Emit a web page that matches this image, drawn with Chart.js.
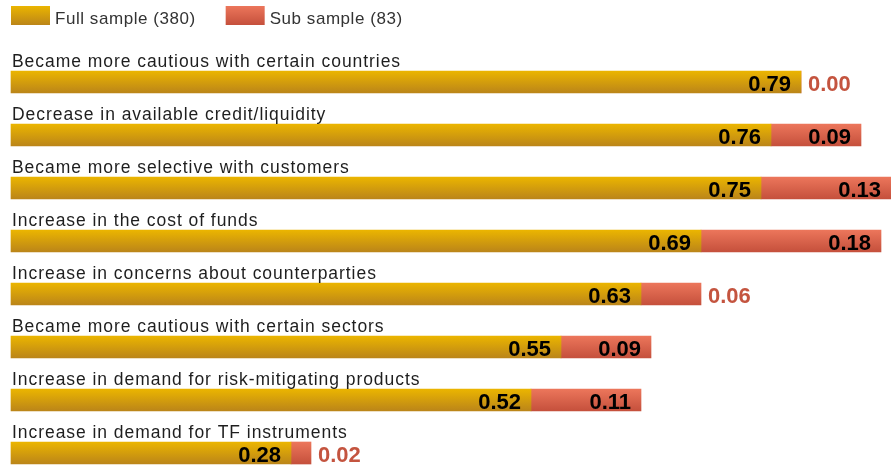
<!DOCTYPE html>
<html>
<head>
<meta charset="utf-8">
<script src="https://cdn.jsdelivr.net/npm/chart.js@4"></script>
<style>
  html, body { margin: 0; padding: 0; background: #fff; }
  canvas { display: block; }
</style>
</head>
<body>
<canvas id="chart" width="891" height="465"></canvas>
<script>
const categories = [
  'Became more cautious with certain countries',
  'Decrease in available credit/liquidity',
  'Became more selective with customers',
  'Increase in the cost of funds',
  'Increase in concerns about counterparties',
  'Became more cautious with certain sectors',
  'Increase in demand for risk-mitigating products',
  'Increase in demand for TF instruments'
];
const fullSample = [0.79, 0.76, 0.75, 0.69, 0.63, 0.55, 0.52, 0.28];
const subSample = [0.00, 0.09, 0.13, 0.18, 0.06, 0.09, 0.11, 0.02];
const seriesNames = ['Full sample (380)', 'Sub sample (83)'];

const topColors = ['#ebb500', '#ec765b'];
const bottomColors = ['#bb8519', '#c5503c'];
const FONT = '"Liberation Sans", Arial, sans-serif';

// vertical gradient for each bar, built from the y scale
function barFill(i) {
  return (ctx) => {
    const y = ctx.chart.scales.y;
    if (!y || ctx.type !== 'data') return bottomColors[i];
    const c = y.getPixelForValue(ctx.dataIndex);
    if (!isFinite(c)) return bottomColors[i];
    const g = ctx.chart.ctx.createLinearGradient(0, c - 11, 0, c + 11);
    g.addColorStop(0, topColors[i]);
    g.addColorStop(1, bottomColors[i]);
    return g;
  };
}

// legend, category names above bars, value labels on the bars
const barLabels = {
  id: 'barLabels',
  afterDatasetsDraw(chart) {
    const { ctx, scales: { x, y } } = chart;
    const left = x.getPixelForValue(0);
    ctx.save();

    // legend
    ctx.font = '17px ' + FONT;
    ctx.letterSpacing = '0.55px';
    ctx.textAlign = 'left';
    ctx.textBaseline = 'alphabetic';
    let lx = left;
    chart.data.datasets.forEach((ds, i) => {
      const g = ctx.createLinearGradient(0, 6, 0, 25);
      g.addColorStop(0, topColors[i]);
      g.addColorStop(1, bottomColors[i]);
      ctx.fillStyle = g;
      ctx.fillRect(lx, 6, 39, 19);
      ctx.fillStyle = '#333';
      ctx.fillText(ds.label, lx + 44, 24);
      lx += 44 + ctx.measureText(ds.label).width + 30;
    });

    // category names
    ctx.font = '17.5px ' + FONT;
    ctx.letterSpacing = '0.95px';
    ctx.fillStyle = '#1e1e1e';
    categories.forEach((c, i) => ctx.fillText(c, left + 1, y.getPixelForValue(i) - 15));

    // values
    ctx.font = 'bold 22px ' + FONT;
    ctx.letterSpacing = '0px';
    chart.data.datasets.forEach((ds, di) => {
      chart.getDatasetMeta(di).data.forEach((bar, i) => {
        const txt = ds.data[i].toFixed(2);
        const w = ctx.measureText(txt).width;
        const segW = Math.abs(bar.x - bar.base);
        if (segW >= w + 20) {
          ctx.fillStyle = '#000';
          ctx.textAlign = 'right';
          ctx.fillText(txt, bar.x - 10, bar.y + 8.5);
        } else {
          ctx.fillStyle = '#c4543f';
          ctx.textAlign = 'left';
          ctx.fillText(txt, bar.x + 7, bar.y + 8.5);
        }
      });
    });
    ctx.restore();
  }
};

new Chart(document.getElementById('chart'), {
  type: 'bar',
  data: {
    labels: categories,
    datasets: [
      { label: seriesNames[0], data: fullSample, backgroundColor: barFill(0) },
      { label: seriesNames[1], data: subSample, backgroundColor: barFill(1) }
    ]
  },
  options: {
    indexAxis: 'y',
    responsive: false,
    animation: false,
    devicePixelRatio: 1,
    layout: { padding: { left: 5, right: 0, top: 0, bottom: 12 } },
    datasets: { bar: { barThickness: 22, borderWidth: 0, clip: false } },
    scales: {
      x: {
        stacked: true,
        position: 'top',
        min: -0.006,
        max: 0.88,
        grid: { display: false },
        border: { display: false },
        ticks: { display: false },
        afterFit: (s) => { s.height = 82; }
      },
      y: {
        stacked: true,
        display: false,
        offset: false
      }
    },
    plugins: {
      tooltip: { enabled: false },
      legend: { display: false }
    }
  },
  plugins: [barLabels]
});
</script>
</body>
</html>
